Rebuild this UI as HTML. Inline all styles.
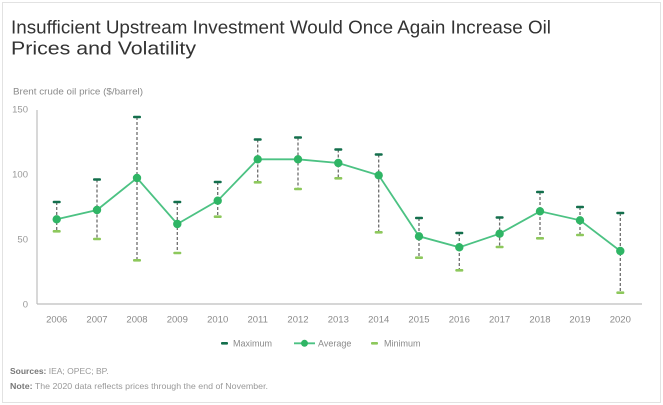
<!DOCTYPE html>
<html><head><meta charset="utf-8"><style>
html,body{margin:0;padding:0;background:#fff;}
svg{display:block;}
text{font-family:"Liberation Sans",Arial,sans-serif;}
</style></head><body>
<svg width="663" height="405" viewBox="0 0 663 405" xmlns="http://www.w3.org/2000/svg">
<rect x="2.5" y="2.5" width="658" height="400" fill="#fff" stroke="#e2e2e2" stroke-width="1"/>
<text x="11" y="33.5" font-size="18" fill="#333" textLength="540" lengthAdjust="spacingAndGlyphs">Insufficient Upstream Investment Would Once Again Increase Oil</text>
<text x="11" y="54.5" font-size="18" fill="#333" textLength="185" lengthAdjust="spacingAndGlyphs">Prices and Volatility</text>
<text x="13" y="94.5" font-size="9.5" fill="#8a8a8a" textLength="130" lengthAdjust="spacingAndGlyphs">Brent crude oil price ($/barrel)</text>
<g font-size="9.5" fill="#999" text-anchor="end">
<text x="28" y="112.5">150</text>
<text x="28" y="177.5">100</text>
<text x="28" y="242.5">50</text>
<text x="28" y="307.5">0</text>
</g>
<line x1="37" y1="110" x2="37" y2="304" stroke="#bdbdbd" stroke-width="1.2"/>
<line x1="37" y1="304" x2="642" y2="304" stroke="#bdbdbd" stroke-width="1.2"/>
<g font-size="9.5" fill="#8a8a8a" text-anchor="middle">
<text x="56.7" y="322.5">2006</text><text x="97" y="322.5">2007</text><text x="137" y="322.5">2008</text><text x="177.3" y="322.5">2009</text><text x="217.7" y="322.5">2010</text><text x="257.7" y="322.5">2011</text><text x="298" y="322.5">2012</text><text x="338.3" y="322.5">2013</text><text x="378.7" y="322.5">2014</text><text x="419" y="322.5">2015</text><text x="459.3" y="322.5">2016</text><text x="499.6" y="322.5">2017</text><text x="540" y="322.5">2018</text><text x="580" y="322.5">2019</text><text x="620.3" y="322.5">2020</text>
</g>
<g stroke="#6e6e6e" stroke-width="1.3" stroke-dasharray="3,2">
<line x1="56.7" y1="202" x2="56.7" y2="231"/>
<line x1="97" y1="179.5" x2="97" y2="239"/>
<line x1="137" y1="117" x2="137" y2="260"/>
<line x1="177.3" y1="202" x2="177.3" y2="253"/>
<line x1="217.7" y1="182" x2="217.7" y2="216.5"/>
<line x1="257.7" y1="139.5" x2="257.7" y2="182"/>
<line x1="298" y1="137.5" x2="298" y2="189"/>
<line x1="338.3" y1="149.5" x2="338.3" y2="178"/>
<line x1="378.7" y1="154.5" x2="378.7" y2="232"/>
<line x1="419" y1="218" x2="419" y2="257.5"/>
<line x1="459.3" y1="233" x2="459.3" y2="270"/>
<line x1="499.6" y1="217.5" x2="499.6" y2="247"/>
<line x1="540" y1="192" x2="540" y2="238"/>
<line x1="580" y1="207" x2="580" y2="235"/>
<line x1="620.3" y1="213" x2="620.3" y2="292.5"/>
</g>
<polyline fill="none" stroke="#4cc283" stroke-width="1.8" points="56.7,219.3 97,210 137,178 177.3,224 217.7,200.7 257.7,159.3 298,159.3 338.3,163 378.7,175.3 419,236.3 459.3,247.3 499.6,233.7 540,211.3 580,220.3 620.3,251"/>
<g fill="#2fb565">
<circle cx="56.7" cy="219.3" r="4.2"/><circle cx="97" cy="210" r="4.2"/><circle cx="137" cy="178" r="4.2"/><circle cx="177.3" cy="224" r="4.2"/><circle cx="217.7" cy="200.7" r="4.2"/><circle cx="257.7" cy="159.3" r="4.2"/><circle cx="298" cy="159.3" r="4.2"/><circle cx="338.3" cy="163" r="4.2"/><circle cx="378.7" cy="175.3" r="4.2"/><circle cx="419" cy="236.3" r="4.2"/><circle cx="459.3" cy="247.3" r="4.2"/><circle cx="499.6" cy="233.7" r="4.2"/><circle cx="540" cy="211.3" r="4.2"/><circle cx="580" cy="220.3" r="4.2"/><circle cx="620.3" cy="251" r="4.2"/>
</g>
<g fill="#136f4c">
<rect x="52.7" y="200.7" width="8" height="2.6" rx="1"/><rect x="93" y="178.2" width="8" height="2.6" rx="1"/><rect x="133" y="115.7" width="8" height="2.6" rx="1"/><rect x="173.3" y="200.7" width="8" height="2.6" rx="1"/><rect x="213.7" y="180.7" width="8" height="2.6" rx="1"/><rect x="253.7" y="138.2" width="8" height="2.6" rx="1"/><rect x="294" y="136.2" width="8" height="2.6" rx="1"/><rect x="334.3" y="148.2" width="8" height="2.6" rx="1"/><rect x="374.7" y="153.2" width="8" height="2.6" rx="1"/><rect x="415" y="216.7" width="8" height="2.6" rx="1"/><rect x="455.3" y="231.7" width="8" height="2.6" rx="1"/><rect x="495.6" y="216.2" width="8" height="2.6" rx="1"/><rect x="536" y="190.7" width="8" height="2.6" rx="1"/><rect x="576" y="205.7" width="8" height="2.6" rx="1"/><rect x="616.3" y="211.7" width="8" height="2.6" rx="1"/>
</g>
<g fill="#8dc85c">
<rect x="52.7" y="230" width="8" height="2.6" rx="1"/><rect x="93" y="237.7" width="8" height="2.6" rx="1"/><rect x="133" y="259" width="8" height="2.6" rx="1"/><rect x="173.3" y="251.7" width="8" height="2.6" rx="1"/><rect x="213.7" y="215.4" width="8" height="2.6" rx="1"/><rect x="253.7" y="181" width="8" height="2.6" rx="1"/><rect x="294" y="187.7" width="8" height="2.6" rx="1"/><rect x="334.3" y="177" width="8" height="2.6" rx="1"/><rect x="374.7" y="231" width="8" height="2.6" rx="1"/><rect x="415" y="256.4" width="8" height="2.6" rx="1"/><rect x="455.3" y="269" width="8" height="2.6" rx="1"/><rect x="495.6" y="245.7" width="8" height="2.6" rx="1"/><rect x="536" y="237" width="8" height="2.6" rx="1"/><rect x="576" y="233.7" width="8" height="2.6" rx="1"/><rect x="616.3" y="291.4" width="8" height="2.6" rx="1"/>
</g>
<rect x="221" y="342" width="7" height="2.6" rx="1" fill="#136f4c"/>
<text x="233" y="346.5" font-size="9" fill="#8a8a8a">Maximum</text>
<line x1="294" y1="343.3" x2="315" y2="343.3" stroke="#4cc283" stroke-width="1.8"/>
<circle cx="304.5" cy="343.3" r="3.5" fill="#2fb565"/>
<text x="318" y="346.5" font-size="9" fill="#8a8a8a">Average</text>
<rect x="371" y="342" width="7" height="2.6" rx="1" fill="#8dc85c"/>
<text x="384" y="346.5" font-size="9" fill="#8a8a8a">Minimum</text>
<text x="10" y="374" font-size="8.5" fill="#999"><tspan font-weight="bold" fill="#777">Sources:</tspan> IEA; OPEC; BP.</text>
<text x="10" y="389" font-size="8.5" fill="#999" textLength="258" lengthAdjust="spacingAndGlyphs"><tspan font-weight="bold" fill="#777">Note:</tspan> The 2020 data reflects prices through the end of November.</text>
</svg>
</body></html>
